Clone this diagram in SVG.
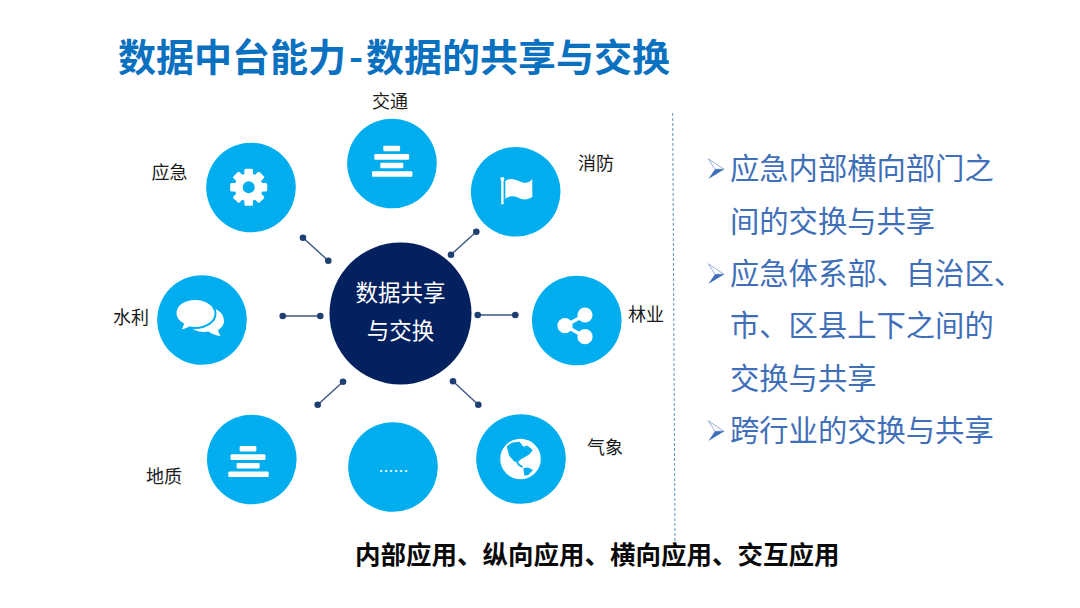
<svg xmlns="http://www.w3.org/2000/svg" xmlns:xlink="http://www.w3.org/1999/xlink" width="1080" height="608" viewBox="0 0 1080 608">
<style>
text{font-family:"Noto Sans CJK SC","Liberation Sans",sans-serif}
.c{fill:#00aeef}
.w{fill:#fff}
.l{font-size:18px;fill:#1a1a1a;text-anchor:middle}
.r{font-size:29.3px;fill:#3f6fb8}
.k line{stroke:#3d5384;stroke-width:1.4}
.k circle{fill:#1f3f73;r:3.3px}
</style>
<defs>
<g id="stack">
<rect x="383.3" y="145.7" width="16.8" height="5.5" rx="1" class="w"/>
<rect x="374.3" y="154" width="34.8" height="5.7" rx="1" class="w"/>
<rect x="380.3" y="162.700" width="23" height="5.5" rx="1" class="w"/>
<rect x="372" y="171.3" width="40.4" height="5.5" rx="1" class="w"/>
</g>
<g id="arrow">
<path d="M708.3 158.800L724 169.300L715 169.300Z" fill="#fff" stroke="#7f9ad0" stroke-width="0.8"/>
<path d="M708.300 179L724.300 169.300L715 169.300Z" fill="#3f6fb8"/>
</g>
</defs>
<rect width="1080" height="608" fill="#fff"/>
<text id="title" x="118" y="70.5" font-size="38" font-weight="700" fill="#0a70c0">数据中台能力<tspan dx="3">-</tspan><tspan dx="3">数据的共享与交换</tspan></text>
<line id="divider" x1="672.7" y1="113" x2="675" y2="541" stroke="#5f97bd" stroke-width="1" stroke-dasharray="3 2"/>
<g id="connectors" class="k">
<g><line x1="303" y1="237.7" x2="328.3" y2="260.7"/><circle cx="303" cy="237.7"/><circle cx="328.3" cy="260.7"/></g>
<g><line x1="476.3" y1="231.7" x2="451" y2="254.7"/><circle cx="476.3" cy="231.7"/><circle cx="451" cy="254.7"/></g>
<g><line x1="282.7" y1="316" x2="320.3" y2="316"/><circle cx="282.7" cy="316"/><circle cx="320.3" cy="316"/></g>
<g><line x1="477.7" y1="315" x2="515.3" y2="315"/><circle cx="477.7" cy="315"/><circle cx="515.3" cy="315"/></g>
<g><line x1="343" y1="381.7" x2="317.7" y2="404.7"/><circle cx="343" cy="381.7"/><circle cx="317.7" cy="404.7"/></g>
<g><line x1="453" y1="381.3" x2="478.3" y2="404.7"/><circle cx="453" cy="381.3"/><circle cx="478.3" cy="404.7"/></g>
</g>
<g id="node-center">
<circle cx="400.5" cy="313.5" r="71" fill="#03205f"/>
<text x="400.5" y="301" font-size="22.5" fill="#fff" text-anchor="middle">数据共享</text>
<text x="400.5" y="338.5" font-size="22.5" fill="#fff" text-anchor="middle">与交换</text>
</g>
<g id="node-jiaotong">
<circle cx="392" cy="163.5" r="44.8" class="c"/>
<use xlink:href="#stack" href="#stack"/>
<text x="390" y="108" class="l">交通</text>
</g>
<g id="node-yingji">
<circle cx="251" cy="187.5" r="44.8" class="c"/>
<g class="w" transform="translate(248.7 187.3)">
<circle r="14"/>
<rect x="-4.300" y="-18.500" width="8.600" height="37" rx="1.500"/>
<rect x="-4.300" y="-18.500" width="8.600" height="37" rx="1.500" transform="rotate(45)"/>
<rect x="-4.300" y="-18.500" width="8.600" height="37" rx="1.500" transform="rotate(90)"/>
<rect x="-4.300" y="-18.500" width="8.600" height="37" rx="1.500" transform="rotate(135)"/>
<circle r="6" class="c"/>
</g>
<text x="169.5" y="179" class="l">应急</text>
</g>
<g id="node-xiaofang">
<circle cx="515.7" cy="191.8" r="44.8" class="c"/>
<rect x="501.2" y="178" width="2.4" height="26.5" rx="1.2" class="w"/>
<circle cx="502.4" cy="179" r="2" class="w"/>
<path class="w" d="M505.3 181C509 178 514 178.5 520 181.5C525 184 529 183 532.3 179L532.3 197C528 199.5 524 200.5 519 198C514 195.5 509 195.5 505.3 199Z"/>
<text x="596" y="170" class="l">消防</text>
</g>
<g id="node-linye">
<circle cx="576.8" cy="320.5" r="44.8" class="c"/>
<path d="M585 315L565 325.7L585 336.7" fill="none" stroke="#fff" stroke-width="3.5"/>
<circle cx="585" cy="315" r="7.600" class="w"/>
<circle cx="565" cy="325.7" r="7.600" class="w"/>
<circle cx="585" cy="336.7" r="7.600" class="w"/>
<text x="646" y="321" class="l">林业</text>
</g>
<g id="node-shuili">
<circle cx="202" cy="320" r="44.8" class="c"/>
<path class="w" d="M214 308.5C221 311 224 316 224 321C224 325 221.500 328 218 330C218.500 332 219.500 334.500 220.500 336C216 335.500 212 334 208.500 331.500C203 332.500 199 332 193.500 329.500Z"/>
<path class="w" d="M195 299C206 299 215.500 305 215.500 313.500C215.500 322 206 328 195 328C193 328 191 327.800 189.500 327.500C186 329.500 182.500 330.500 179 330.500C181 329 182.500 326.500 183 324C178.500 321.500 175.500 318 175.500 313.500C175.500 305 184 299 195 299Z" stroke="#00aeef" stroke-width="2"/>
<text x="131" y="324" class="l">水利</text>
</g>
<g id="node-dizhi">
<circle cx="251.800" cy="459.500" r="44.8" class="c"/>
<use xlink:href="#stack" href="#stack" x="-143.700" y="300.200"/>
<text x="164" y="483" class="l">地质</text>
</g>
<g id="node-more">
<circle cx="393" cy="467" r="44.8" class="c"/>
<text x="393.500" y="472" font-size="18" fill="#fff" text-anchor="middle" style="font-family:'Liberation Sans',sans-serif">......</text>
</g>
<g id="node-qixiang">
<circle cx="521" cy="459" r="44.8" class="c"/>
<circle cx="520.500" cy="459" r="20.300" class="w"/>
<path class="c" stroke="#00aeef" stroke-width="1" stroke-linejoin="round" d="M507.300 446.500L511.700 443.200L519.500 442.200L523.300 447.300L527.300 446L532.200 450L530 453.300L526 456L521.700 458.300L518 461.200L514.500 461.200L509.800 456Z"/>
<path d="M516.500 460.500L518.500 464.500L522.500 467" fill="none" stroke="#00aeef" stroke-width="1.800"/>
<path class="c" d="M523.300 468.300L528 467.500L533 470L528.300 475L524.500 475.700Z"/>
<text x="605" y="454" class="l">气象</text>
</g>
<g id="bullets">
<use xlink:href="#arrow" href="#arrow"/>
<use xlink:href="#arrow" href="#arrow" y="105"/>
<use xlink:href="#arrow" href="#arrow" y="262"/>
<text x="730" y="179" class="r">应急内部横向部门之</text>
<text x="730" y="232" class="r">间的交换与共享</text>
<text x="730" y="284" class="r">应急体系部、自治区、</text>
<text x="730" y="336" class="r">市、区县上下之间的</text>
<text x="730" y="389" class="r">交换与共享</text>
<text x="730" y="441" class="r">跨行业的交换与共享</text>
</g>
<text id="footer" x="355" y="564" font-size="25.500" font-weight="700" fill="#0a0a0a">内部应用、纵向应用、横向应用、交互应用</text>
</svg>
